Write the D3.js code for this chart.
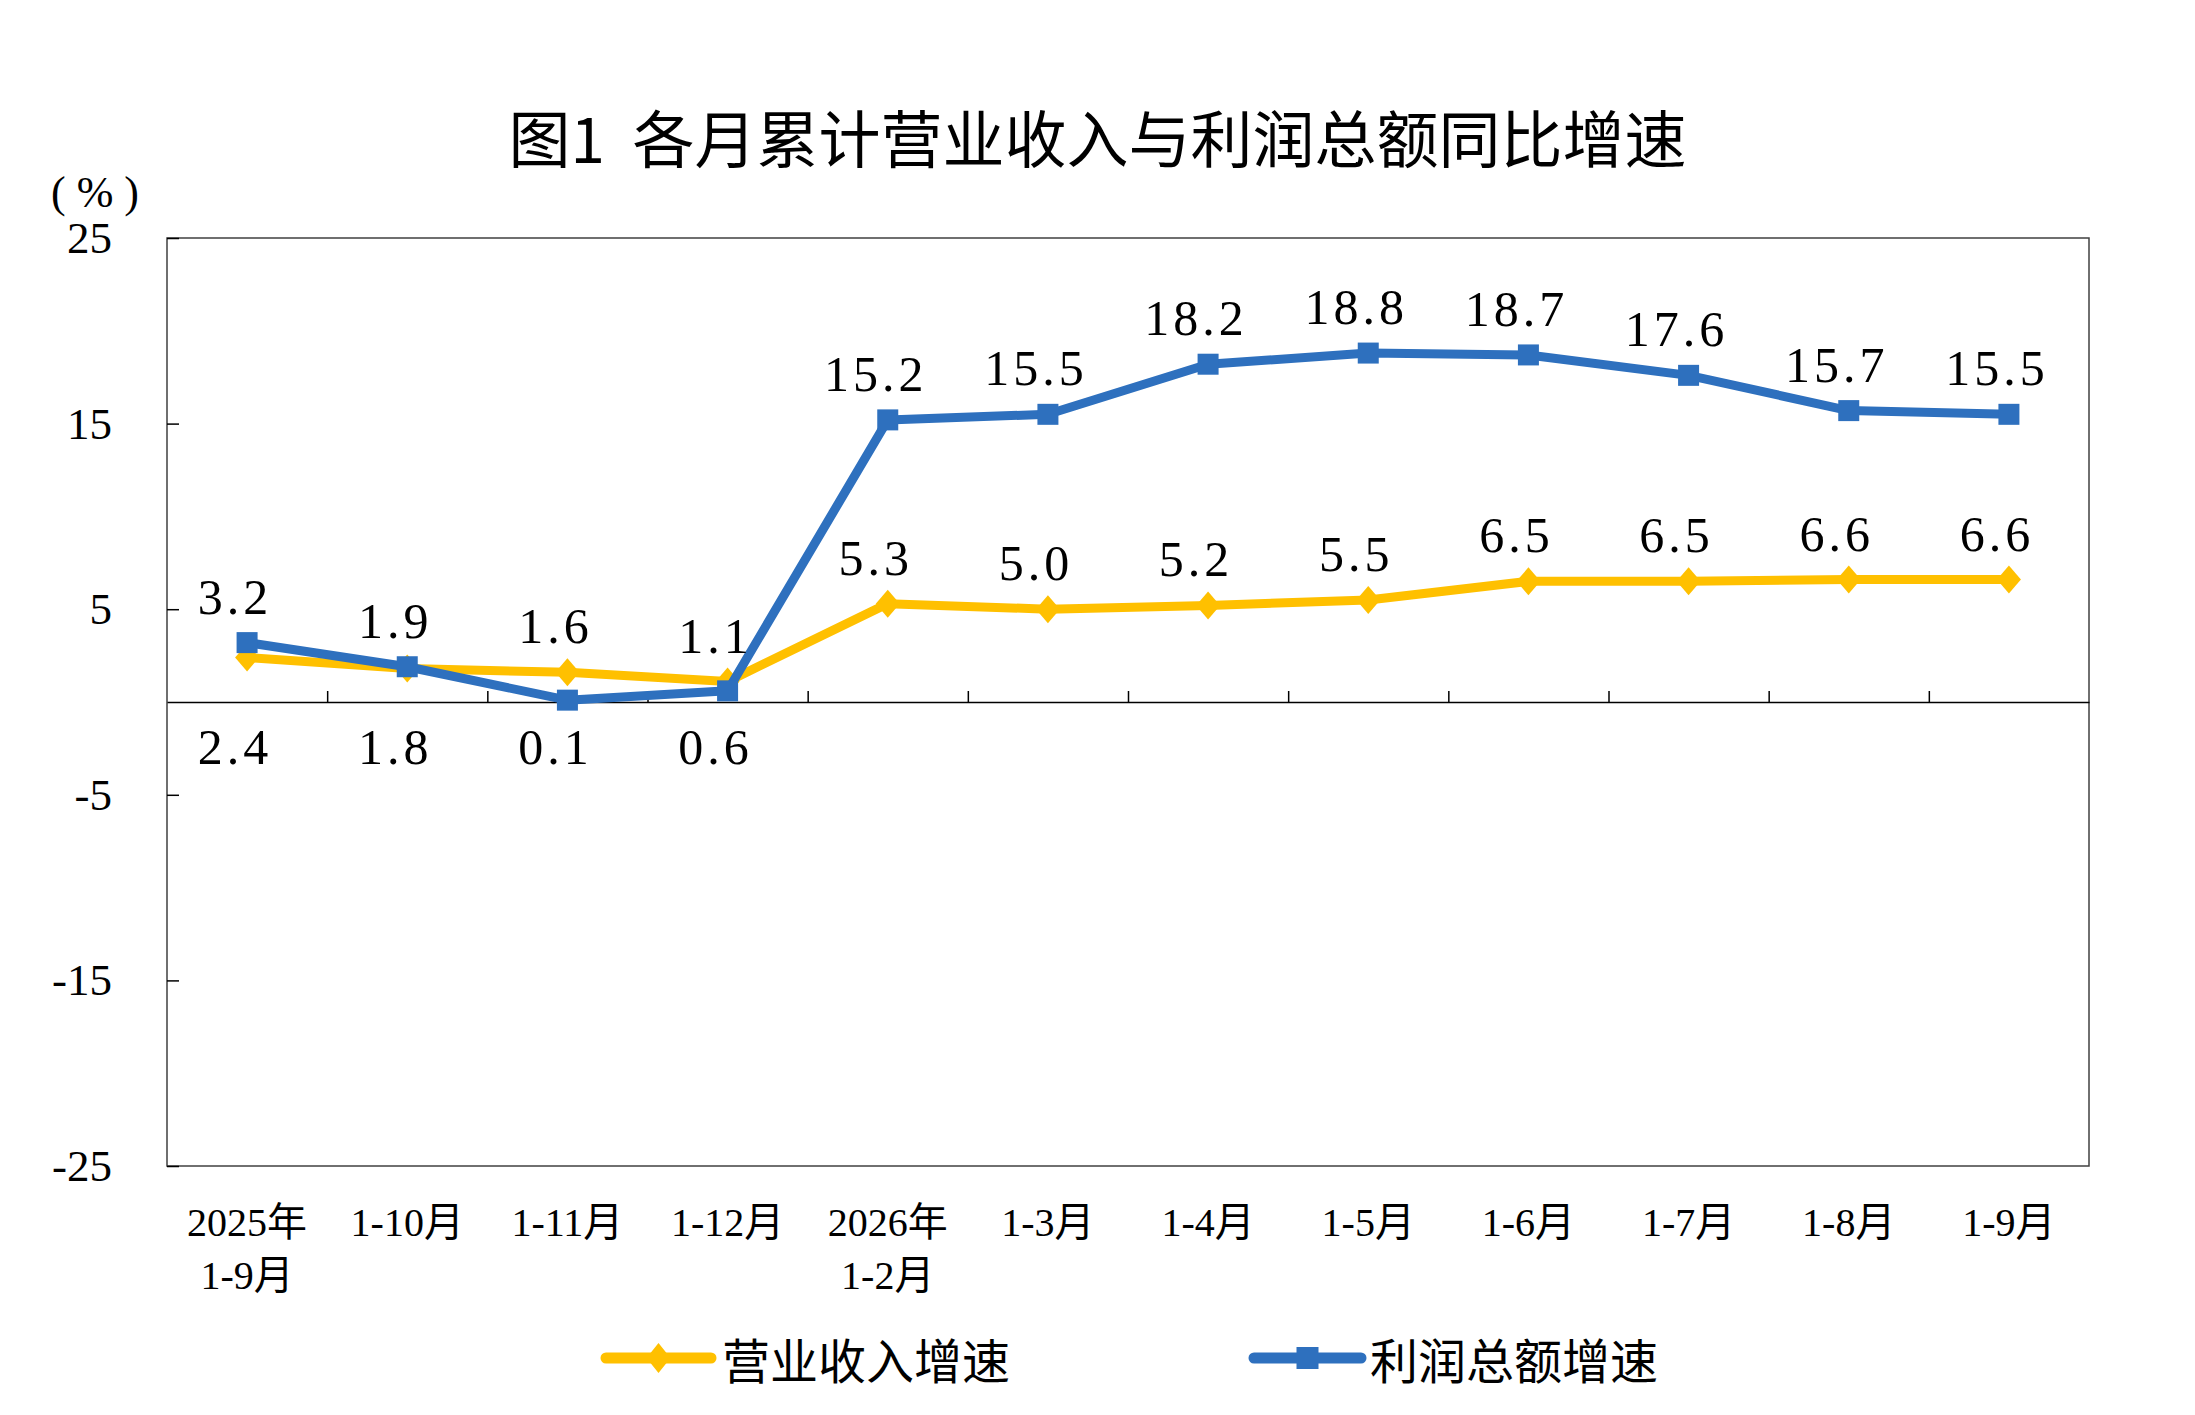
<!DOCTYPE html>
<html lang="zh">
<head>
<meta charset="UTF-8">
<script src="https://d3js.org/d3.v7.min.js"></script>
<style>
  body { margin:0; background:#fff; }
  svg { display:block; }
  .serif { font-family:"Liberation Serif","Times New Roman","Noto Sans CJK SC",serif; fill:#000; }
  .cjk { font-family:"Noto Sans CJK SC","Noto Sans",sans-serif; fill:#000; }
</style>
</head>
<body>
<svg></svg>
<script>
// categories (multi-line labels split on \n)
var categories = ["2025年\n1-9月","1-10月","1-11月","1-12月","2026年\n1-2月","1-3月","1-4月","1-5月","1-6月","1-7月","1-8月","1-9月"];
var revenueGrowth = [2.4, 1.8, 1.6, 1.1, 5.3, 5.0, 5.2, 5.5, 6.5, 6.5, 6.6, 6.6];
var profitGrowth  = [3.2, 1.9, 0.1, 0.6, 15.2, 15.5, 18.2, 18.8, 18.7, 17.6, 15.7, 15.5];
var yTicks = [25, 15, 5, -5, -15, -25];
// where each value label sits relative to its point
var revenueLabelSide = ["below","below","above","above","above","above","above","above","above","above","above","above"];
var profitLabelSide  = ["above","above","below","below","above","above","above","above","above","above","above","above"];
var seriesNames = ["营业收入增速","利润总额增速"];

var W = 2195, H = 1415;
var margin = {top: 238, right: 106, bottom: 249, left: 167},
    width = W - margin.left - margin.right,
    height = H - margin.top - margin.bottom;

var orange = "#FFC000", blue = "#2E70BE";

var svg = d3.select("svg").attr("width", W).attr("height", H);

// title
svg.append("text")
  .attr("class","cjk")
  .attr("x", W/2).attr("y", 136)
  .attr("text-anchor","middle")
  .attr("dominant-baseline","central")
  .attr("font-size", 62)
  .attr("font-weight", 400)
  .style("white-space","pre")
  .text("图1  各月累计营业收入与利润总额同比增速");

// unit
svg.append("text")
  .attr("class","serif")
  .attr("x", 95).attr("y", 192)
  .attr("text-anchor","middle")
  .attr("dominant-baseline","central")
  .attr("font-size", 44)
  .style("white-space","pre")
  .text("( % )");

var inner = svg.append("g")
  .attr("transform","translate(" + margin.left + "," + margin.top + ")");

var x = d3.scaleBand().domain(categories).range([0, width]).padding(0);
var y = d3.scaleLinear().domain([-25, 25]).range([height, 0]);
var cx = function(i){ return x(categories[i]) + x.bandwidth()/2; };

// plot frame
inner.append("rect")
  .attr("width", width).attr("height", height)
  .attr("fill","none").attr("stroke","#404040").attr("stroke-width",1.5);

// y axis, ticks pointing inward
var yAxis = d3.axisLeft(y).tickValues(yTicks).tickSizeInner(-12).tickSizeOuter(0).tickPadding(55)
  .tickFormat(function(d){ return String(d); });
var gy = inner.append("g").call(yAxis);
gy.select(".domain").remove();
gy.selectAll("line").attr("stroke","#000").attr("stroke-width",1.5);
gy.selectAll("text").attr("class","serif").attr("font-size",45).attr("fill","#000");

// x axis at zero, ticks at category boundaries
var xb = d3.scaleLinear().domain([0, categories.length]).range([0, width]);
var xAxis = d3.axisBottom(xb).tickValues(d3.range(1, categories.length)).tickSizeInner(-11).tickSizeOuter(0).tickFormat("");
var gx = inner.append("g").attr("transform","translate(0," + y(0) + ")").call(xAxis);
gx.select(".domain").attr("stroke","#000").attr("stroke-width",1.5);
gx.selectAll("line").attr("stroke","#000").attr("stroke-width",1.5);

// category labels below plot
var cat = inner.append("g").selectAll("text")
  .data(categories).enter().append("text")
  .attr("class","serif")
  .attr("text-anchor","middle")
  .attr("font-size",40)
  .attr("x", function(d,i){ return cx(i); })
  .attr("y", height + 70);
cat.each(function(d){
  var t = d3.select(this);
  d.split("\n").forEach(function(s, k){
    t.append("tspan").attr("x", t.attr("x")).attr("dy", k === 0 ? 0 : 53).text(s);
  });
});

var line = d3.line()
  .x(function(d,i){ return cx(i); })
  .y(function(d){ return y(d); });

function diamond(w, h){
  return "M0," + (-h) + "L" + w + ",0L0," + h + "L" + (-w) + ",0Z";
}

// revenue series
inner.append("path").datum(revenueGrowth)
  .attr("d", line).attr("fill","none").attr("stroke",orange)
  .attr("stroke-width",9).attr("stroke-linejoin","round");
inner.append("g").selectAll("path")
  .data(revenueGrowth).enter().append("path")
  .attr("d", diamond(12,14)).attr("fill",orange)
  .attr("transform", function(d,i){ return "translate(" + cx(i) + "," + y(d) + ")"; });

// profit series
inner.append("path").datum(profitGrowth)
  .attr("d", line).attr("fill","none").attr("stroke",blue)
  .attr("stroke-width",9).attr("stroke-linejoin","round");
inner.append("g").selectAll("rect")
  .data(profitGrowth).enter().append("rect")
  .attr("x", function(d,i){ return cx(i) - 10.5; })
  .attr("y", function(d){ return y(d) - 10.5; })
  .attr("width",21).attr("height",21).attr("fill",blue);

// value labels
function labels(values, sides){
  inner.append("g").selectAll("text")
    .data(values).enter().append("text")
    .attr("class","serif")
    .attr("font-size",50)
    .attr("letter-spacing",4)
    .attr("text-anchor","middle")
    .attr("x", function(d,i){ return cx(i) - 12; })
    .attr("y", function(d,i){ return sides[i] === "above" ? y(d) - 29 : y(0) + 62; })
    .text(function(d){ return d.toFixed(1); });
}
labels(revenueGrowth, revenueLabelSide);
labels(profitGrowth, profitLabelSide);

// legend
var legend = svg.append("g").attr("transform","translate(0,1358)");
var items = [
  {name: seriesNames[0], color: orange, x0: 606, x1: 711, tx: 722, marker: "diamond"},
  {name: seriesNames[1], color: blue, x0: 1254, x1: 1361, tx: 1370, marker: "square"}
];
items.forEach(function(it){
  legend.append("line")
    .attr("x1", it.x0).attr("x2", it.x1)
    .attr("stroke", it.color).attr("stroke-width", 11).attr("stroke-linecap","round");
  var mx = (it.x0 + it.x1)/2;
  if (it.marker === "diamond") {
    legend.append("path").attr("d", diamond(12,15)).attr("fill", it.color)
      .attr("transform","translate(" + mx + ",0)");
  } else {
    legend.append("rect").attr("x", mx - 11).attr("y", -11)
      .attr("width", 22).attr("height", 22).attr("fill", it.color);
  }
  legend.append("text").attr("class","cjk")
    .attr("x", it.tx).attr("y", 0)
    .attr("dominant-baseline","central")
    .attr("font-size", 48)
    .text(it.name);
});
</script>
</body>
</html>
